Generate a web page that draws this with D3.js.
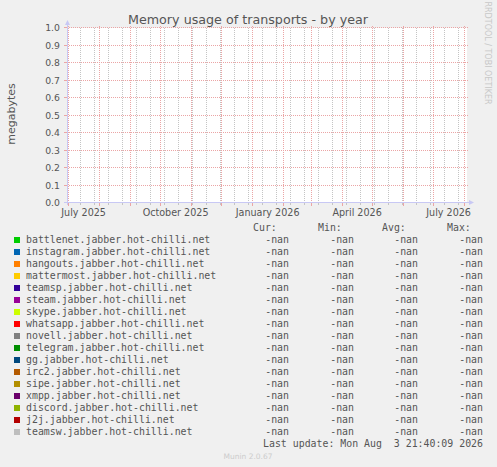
<!DOCTYPE html>
<html>
<head>
<meta charset="utf-8">
<script src="https://cdn.jsdelivr.net/npm/d3@7"></script>
<style>
    html, body { margin: 0; padding: 0; background: #f0f0f0; }
    svg { display: block; }
</style>
</head>
<body>
<svg id="chart" width="497" height="467"></svg>
<script>
    /**
     * Munin yearly graph: memory usage of transports
     */
    var title = "Memory usage of transports - by year";
    var yLabel = "megabytes";
    var startTime = "2025-06-29 21:40:09";
    var endTime = "2026-08-03 21:40:09";
    var yTicks = [0.0, 0.1, 0.2, 0.3, 0.4, 0.5, 0.6, 0.7, 0.8, 0.9, 1.0];
    var xTickLabels = ["July 2025", "October 2025", "January 2026", "April 2026", "July 2026"];

    var seriesNames = [
        "battlenet.jabber.hot-chilli.net",
        "instagram.jabber.hot-chilli.net",
        "hangouts.jabber.hot-chilli.net",
        "mattermost.jabber.hot-chilli.net",
        "teamsp.jabber.hot-chilli.net",
        "steam.jabber.hot-chilli.net",
        "skype.jabber.hot-chilli.net",
        "whatsapp.jabber.hot-chilli.net",
        "novell.jabber.hot-chilli.net",
        "telegram.jabber.hot-chilli.net",
        "gg.jabber.hot-chilli.net",
        "irc2.jabber.hot-chilli.net",
        "sipe.jabber.hot-chilli.net",
        "xmpp.jabber.hot-chilli.net",
        "discord.jabber.hot-chilli.net",
        "j2j.jabber.hot-chilli.net",
        "teamsw.jabber.hot-chilli.net"
    ];
    var seriesColors = [
        "#00cc00", "#0066b3", "#ff8000", "#ffcc00", "#330099", "#990099",
        "#ccff00", "#ff0000", "#808080", "#008f00", "#00487d", "#b35a00",
        "#b38f00", "#6b006b", "#8fb300", "#b30000", "#bebebe"
    ];
    // no samples were recorded: every value is nan
    var curValues = [NaN, NaN, NaN, NaN, NaN, NaN, NaN, NaN, NaN, NaN, NaN, NaN, NaN, NaN, NaN, NaN, NaN];
    var minValues = [NaN, NaN, NaN, NaN, NaN, NaN, NaN, NaN, NaN, NaN, NaN, NaN, NaN, NaN, NaN, NaN, NaN];
    var avgValues = [NaN, NaN, NaN, NaN, NaN, NaN, NaN, NaN, NaN, NaN, NaN, NaN, NaN, NaN, NaN, NaN, NaN];
    var maxValues = [NaN, NaN, NaN, NaN, NaN, NaN, NaN, NaN, NaN, NaN, NaN, NaN, NaN, NaN, NaN, NaN, NaN];
    var lastUpdate = "Last update: Mon Aug  3 21:40:09 2026";
    var version = "Munin 2.0.67";

    var svg = d3.select("#chart");
    var plotLeft = 67, plotRight = 467, plotTop = 28, plotBottom = 203;
    var parseTime = d3.timeParse("%Y-%m-%d %H:%M:%S");
    var parseMonth = d3.timeParse("%B %Y");
    var t0 = parseTime(startTime), t1 = parseTime(endTime);

    var x = d3.scaleTime().domain([t0, t1]).range([plotLeft, plotRight]);
    var y = d3.scaleLinear().domain([0, 1]).range([plotBottom, plotTop]);

    var majorColor = "#eba5a5", minorColor = "#c4c4c4", axisColor = "#c8c8f4";

    function px(v) {
        return Math.round(v) + 0.5;
    }

    // plot background
    svg.append("rect")
        .attr("x", plotLeft).attr("y", plotTop)
        .attr("width", plotRight - plotLeft).attr("height", plotBottom - plotTop)
        .attr("fill", "#ffffff");

    var grid = svg.append("g").attr("shape-rendering", "crispEdges");

    // minor grid, every two weeks
    var minorDates = d3.timeSunday.range(new Date(2025, 6, 13), t1, 2);
    minorDates.forEach(function (d) {
        var xp = px(x(d));
        grid.append("line")
            .attr("x1", xp).attr("x2", xp).attr("y1", plotTop).attr("y2", plotBottom)
            .attr("stroke", minorColor).attr("stroke-dasharray", "1,1");
        grid.append("line")
            .attr("x1", xp).attr("x2", xp).attr("y1", plotBottom).attr("y2", plotBottom + 2)
            .attr("stroke", minorColor);
    });

    // major grid, every month
    var monthDates = d3.timeMonth.range(d3.timeMonth.ceil(t0), t1);
    monthDates.forEach(function (d) {
        var xp = px(x(d));
        grid.append("line")
            .attr("x1", xp).attr("x2", xp).attr("y1", plotTop - 2).attr("y2", plotBottom)
            .attr("stroke", majorColor).attr("stroke-dasharray", "1,1");
        grid.append("line")
            .attr("x1", xp).attr("x2", xp).attr("y1", plotBottom).attr("y2", plotBottom + 3)
            .attr("stroke", majorColor);
    });

    yTicks.forEach(function (v) {
        var yp = px(y(v)) - 1;
        grid.append("line")
            .attr("x1", plotLeft).attr("x2", plotRight + 2).attr("y1", yp).attr("y2", yp)
            .attr("stroke", majorColor).attr("stroke-dasharray", "1,1");
        grid.append("line")
            .attr("x1", plotLeft - 3).attr("x2", plotLeft).attr("y1", yp).attr("y2", yp)
            .attr("stroke", majorColor);
        svg.append("text")
            .attr("x", 60).attr("y", yp + 3.2)
            .attr("text-anchor", "end")
            .style("font", "9.3px 'DejaVu Sans'").attr("fill", "#555")
            .text(d3.format(".1f")(v));
    });

    // month labels, centred inside their month
    xTickLabels.forEach(function (s) {
        var m = parseMonth(s);
        var xm = (x(m) + x(d3.timeMonth.offset(m, 1))) / 2;
        svg.append("text")
            .attr("x", xm).attr("y", 216)
            .attr("text-anchor", "middle")
            .style("font", "9.6px 'DejaVu Sans'").attr("fill", "#555")
            .text(s);
    });

    // series lines (nothing to draw when every sample is nan)
    var line = d3.line()
        .defined(function (d) { return !isNaN(d.v); })
        .x(function (d) { return x(d.t); })
        .y(function (d) { return y(d.v); });
    seriesNames.forEach(function (name, i) {
        var pts = [{t: t1, v: curValues[i]}];
        svg.append("path")
            .datum(pts)
            .attr("d", line)
            .attr("fill", "none")
            .attr("stroke", seriesColors[i]);
    });

    // axes with arrows
    svg.append("line")
        .attr("x1", plotLeft - 3).attr("x2", plotRight + 2)
        .attr("y1", plotBottom - 0.5).attr("y2", plotBottom - 0.5)
        .attr("stroke", axisColor);
    svg.append("line")
        .attr("x1", plotLeft + 0.5).attr("x2", plotLeft + 0.5)
        .attr("y1", plotBottom + 2).attr("y2", plotTop - 3)
        .attr("stroke", axisColor);
    svg.append("path")
        .attr("d", "M" + (plotRight + 2) + "," + (plotBottom - 3) + "L" + (plotRight + 7) + "," + (plotBottom - 0.5) + "L" + (plotRight + 2) + "," + (plotBottom + 2) + "Z")
        .attr("fill", axisColor);
    svg.append("path")
        .attr("d", "M" + (plotLeft - 2) + "," + (plotTop - 3) + "L" + (plotLeft + 0.5) + "," + (plotTop - 8) + "L" + (plotLeft + 3) + "," + (plotTop - 3) + "Z")
        .attr("fill", axisColor);

    // title and labels
    svg.append("text")
        .attr("x", 248).attr("y", 24)
        .attr("text-anchor", "middle")
        .style("font", "12.7px 'DejaVu Sans'").attr("fill", "#555")
        .text(title);
    svg.append("text")
        .attr("transform", "translate(15,114) rotate(-90)")
        .attr("text-anchor", "middle")
        .style("font", "11px 'DejaVu Sans'").attr("fill", "#555")
        .text(yLabel);
    svg.append("text")
        .attr("transform", "translate(484.5,53) rotate(90)")
        .attr("text-anchor", "middle")
        .style("font", "8px 'DejaVu Sans'").attr("fill", "#c8c8c8")
        .text("RRDTOOL / TOBI OETIKER");

    // legend
    var mono = "9.9px 'DejaVu Sans Mono'";
    var colEnds = [289, 354, 418, 483];
    var headers = ["Cur:", "Min:", "Avg:", "Max:"];
    var headerStarts = [253, 318, 382, 447];
    var rowBase = 243, rowStep = 12;
    var fmt = function (v) { return isNaN(v) ? "-nan" : d3.format(".2f")(v); };

    headers.forEach(function (h, j) {
        svg.append("text")
            .attr("x", headerStarts[j]).attr("y", rowBase - rowStep)
            .style("font", mono).attr("fill", "#555")
            .text(h);
    });

    var rows = svg.append("g").selectAll("g")
        .data(seriesNames)
        .enter().append("g")
        .attr("transform", function (d, i) {
            return "translate(0," + (rowBase + i * rowStep) + ")";
        });
    rows.append("rect")
        .attr("x", 14).attr("y", -6)
        .attr("width", 6).attr("height", 6)
        .attr("fill", function (d, i) { return seriesColors[i]; });
    rows.append("text")
        .attr("x", 26).attr("y", 0)
        .style("font", mono).attr("fill", "#555")
        .text(function (d) { return d; });
    [curValues, minValues, avgValues, maxValues].forEach(function (vals, j) {
        rows.append("text")
            .attr("x", colEnds[j]).attr("y", 0)
            .attr("text-anchor", "end")
            .style("font", mono).attr("fill", "#555")
            .text(function (d, i) { return fmt(vals[i]); });
    });

    svg.append("text")
        .attr("x", 483).attr("y", rowBase + seriesNames.length * rowStep)
        .attr("text-anchor", "end")
        .attr("xml:space", "preserve")
        .style("font", mono).style("white-space", "pre").attr("fill", "#555")
        .text(lastUpdate);

    svg.append("text")
        .attr("x", 248).attr("y", 459)
        .attr("text-anchor", "middle")
        .style("font", "7.5px 'DejaVu Sans'").attr("fill", "#cccccc")
        .text(version);
</script>
</body>
</html>
